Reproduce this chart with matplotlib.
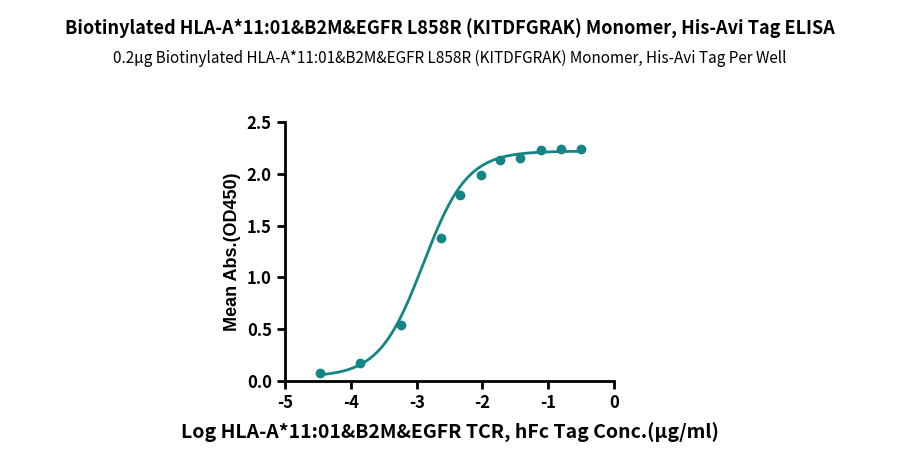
import numpy as np
import matplotlib
matplotlib.use("Agg")
import matplotlib.pyplot as plt

plt.rcParams['font.family'] = ['Noto Sans CJK SC', 'DejaVu Sans']

log_conc = [-4.47, -3.86, -3.24, -2.63, -2.34, -2.02, -1.73, -1.43, -1.11, -0.81, -0.50]
od450 = [0.077, 0.17, 0.54, 1.38, 1.80, 1.99, 2.13, 2.15, 2.23, 2.24, 2.24]
x_ticks = [-5, -4, -3, -2, -1, 0]
y_ticks = [0.0, 0.5, 1.0, 1.5, 2.0, 2.5]
# fitted 4PL parameters
bottom, top, logec50, hill = 0.04, 2.22, -2.9, 1.3

color = '#138584'
fig = plt.figure(figsize=(9, 4.68), dpi=100)
ax = fig.add_axes([0.3167, 0.186, 0.3655, 0.553])
xs = np.linspace(min(log_conc), max(log_conc), 300)
ys = bottom + (top - bottom) / (1 + 10 ** ((logec50 - xs) * hill))
ax.plot(xs, ys, color=color, lw=2)
ax.plot(log_conc, od450, 'o', color=color, ms=6)
ax.set_xlim(-5, 0)
ax.set_ylim(0, 2.5)
ax.set_xticks(x_ticks)
ax.set_yticks(y_ticks)
ax.set_xticklabels([str(t) for t in x_ticks])
ax.set_yticklabels([f"{t:.1f}" for t in y_ticks])
for s in ['top', 'right']:
    ax.spines[s].set_visible(False)
for s in ['left', 'bottom']:
    ax.spines[s].set_linewidth(2)
ax.tick_params(width=2, length=6, labelsize=12)
for lab in ax.get_xticklabels() + ax.get_yticklabels():
    lab.set_fontweight('bold')
ax.set_ylabel('Mean Abs.(OD450)', fontsize=13, fontweight='bold', family=['Liberation Sans', 'DejaVu Sans'])
ax.set_xlabel('Log HLA-A*11:01&B2M&EGFR TCR, hFc Tag Conc.(μg/ml)', fontsize=14, fontweight='bold', labelpad=8)
fig.text(0.5, 0.925, 'Biotinylated HLA-A*11:01&B2M&EGFR L858R (KITDFGRAK) Monomer, His-Avi Tag ELISA',
         ha='center', fontsize=13, fontweight='bold')
fig.text(0.5, 0.865, '0.2μg Biotinylated HLA-A*11:01&B2M&EGFR L858R (KITDFGRAK) Monomer, His-Avi Tag Per Well',
         ha='center', fontsize=11)
fig.savefig('out.png', dpi=100)
